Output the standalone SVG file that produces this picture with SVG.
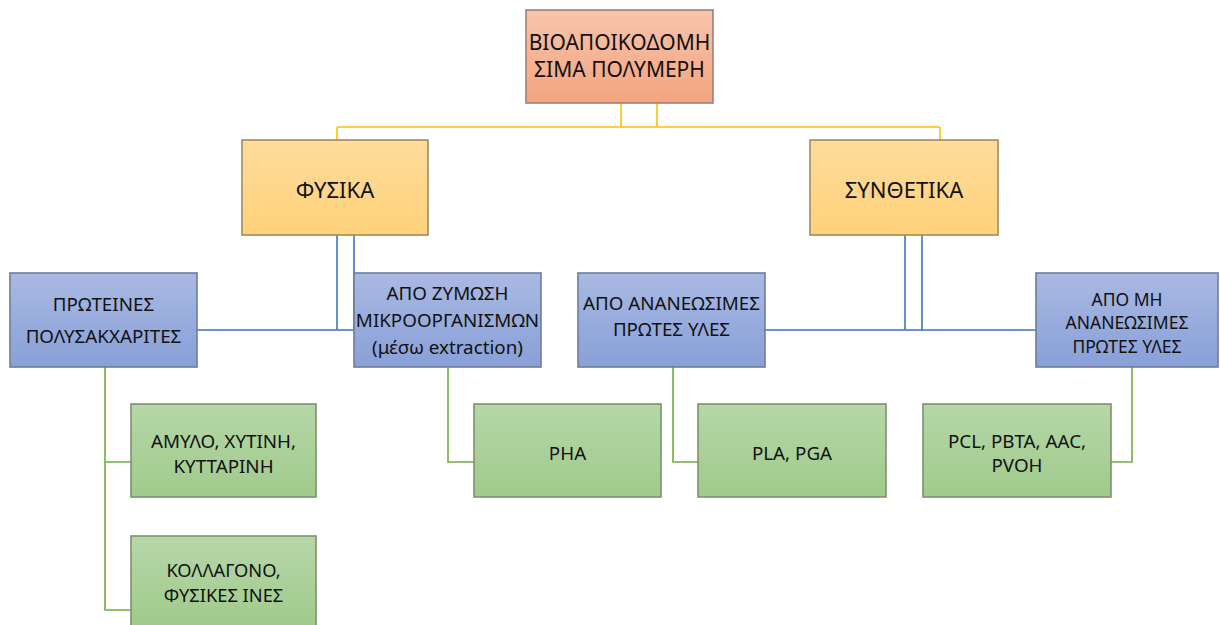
<svg xmlns="http://www.w3.org/2000/svg" width="1220" height="625" viewBox="0 0 1220 625">
  <defs>
    <linearGradient id="gRoot" x1="0" y1="0" x2="0" y2="1">
      <stop offset="0" stop-color="#F8C4AC"/>
      <stop offset="1" stop-color="#F4A47F"/>
    </linearGradient>
    <linearGradient id="gYellow" x1="0" y1="0" x2="0" y2="1">
      <stop offset="0" stop-color="#FFDC9C"/>
      <stop offset="1" stop-color="#FFD27A"/>
    </linearGradient>
    <linearGradient id="gBlue" x1="0" y1="0" x2="0" y2="1">
      <stop offset="0" stop-color="#A9B9E2"/>
      <stop offset="1" stop-color="#88A0D8"/>
    </linearGradient>
    <linearGradient id="gGreen" x1="0" y1="0" x2="0" y2="1">
      <stop offset="0" stop-color="#B6D7A8"/>
      <stop offset="1" stop-color="#A0CA8B"/>
    </linearGradient>
  </defs>
  <style>
    .box { stroke-width: 1.6; }
    .root { fill: url(#gRoot); stroke: #9A8276; }
    .yel { fill: url(#gYellow); stroke: #A08B62; }
    .blu { fill: url(#gBlue); stroke: #6E7C9C; }
    .grn { fill: url(#gGreen); stroke: #7C9170; }
    text { font-family: "Noto Sans", "Open Sans", "DejaVu Sans", sans-serif; fill: #111; text-anchor: middle; }
    .t0 { font-size: 21px; }
    .t1 { font-size: 22px; }
    .t2 { font-size: 18.8px; }
    .t3 { font-size: 17.5px; }
    .t4 { font-size: 18.3px; }
    .c { fill: none; stroke-width: 1.6; }
    .cy { stroke: #FFC000; }
    .cb { stroke: #4472C4; }
    .cg { stroke: #70AD47; }
  </style>

  <!-- connectors -->
  <g id="connectors">
    <!-- root to level 1 -->
    <path class="c cy" d="M621 103 V127 M657 103 V127 M337 127 H940 M337 127 V140 M940 127 V140"/>
    <!-- natural branch -->
    <path class="c cb" d="M337 235 V330 M354 235 V330 M197 330 H355"/>
    <!-- synthetic branch -->
    <path class="c cb" d="M905 235 V330 M922 235 V330 M765 330 H1037"/>
    <!-- leaves -->
    <path class="c cg" d="M105 367 V610 H131 M105 462 H131"/>
    <path class="c cg" d="M448 367 V462 H474"/>
    <path class="c cg" d="M673 367 V462 H698"/>
    <path class="c cg" d="M1132 367 V462 H1111"/>
  </g>

  <g id="root">
    <rect class="box root" x="526" y="10" width="187" height="93"/>
    <text class="t0" x="619.5" y="50">ΒΙΟΑΠΟΙΚΟΔΟΜΗ</text>
    <text class="t0" x="619.5" y="77">ΣΙΜΑ ΠΟΛΥΜΕΡΗ</text>
  </g>

  <g id="natural">
    <rect class="box yel" x="242" y="140" width="186" height="95"/>
    <text class="t1" x="335" y="198">ΦΥΣΙΚΑ</text>
  </g>

  <g id="synthetic">
    <rect class="box yel" x="810" y="140" width="188" height="95"/>
    <text class="t1" x="904" y="198">ΣΥΝΘΕΤΙΚΑ</text>
  </g>

  <g id="proteins">
    <rect class="box blu" x="10" y="273" width="187" height="94"/>
    <text class="t2" x="103.5" y="311">ΠΡΩΤΕΙΝΕΣ</text>
    <text class="t2" x="103.5" y="343">ΠΟΛΥΣΑΚΧΑΡΙΤΕΣ</text>
  </g>

  <g id="fermentation">
    <rect class="box blu" x="354" y="273" width="187" height="94"/>
    <text class="t2" x="447.5" y="300">ΑΠΟ ΖΥΜΩΣΗ</text>
    <text class="t2" x="447.5" y="327">ΜΙΚΡΟΟΡΓΑΝΙΣΜΩΝ</text>
    <text class="t2" x="447.5" y="354">(μέσω extraction)</text>
  </g>

  <g id="renewable">
    <rect class="box blu" x="578" y="273" width="187" height="94"/>
    <text class="t2" x="671.5" y="310">ΑΠΟ ΑΝΑΝΕΩΣΙΜΕΣ</text>
    <text class="t2" x="671.5" y="336">ΠΡΩΤΕΣ ΥΛΕΣ</text>
  </g>

  <g id="nonrenewable">
    <rect class="box blu" x="1036" y="273" width="182" height="94"/>
    <text class="t3" x="1127" y="305.5">ΑΠΟ ΜΗ</text>
    <text class="t3" x="1127" y="329">ΑΝΑΝΕΩΣΙΜΕΣ</text>
    <text class="t3" x="1127" y="352.5">ΠΡΩΤΕΣ ΥΛΕΣ</text>
  </g>

  <g id="starch">
    <rect class="box grn" x="131" y="404" width="185" height="93"/>
    <text class="t2" x="223.5" y="448">ΑΜΥΛΟ, ΧΥΤΙΝΗ,</text>
    <text class="t2" x="223.5" y="473">ΚΥΤΤΑΡΙΝΗ</text>
  </g>

  <g id="collagen">
    <rect class="box grn" x="131" y="536" width="185" height="93"/>
    <text class="t4" x="223.5" y="577">ΚΟΛΛΑΓΟΝΟ,</text>
    <text class="t4" x="223.5" y="601.5">ΦΥΣΙΚΕΣ ΙΝΕΣ</text>
  </g>

  <g id="pha">
    <rect class="box grn" x="474" y="404" width="187" height="93"/>
    <text class="t2" x="567.5" y="460">PHA</text>
  </g>

  <g id="pla">
    <rect class="box grn" x="698" y="404" width="188" height="93"/>
    <text class="t2" x="792" y="460">PLA, PGA</text>
  </g>

  <g id="pcl">
    <rect class="box grn" x="923" y="404" width="188" height="93"/>
    <text class="t2" x="1017" y="448">PCL, PBTA, AAC,</text>
    <text class="t2" x="1017" y="472">PVOH</text>
  </g>
</svg>
